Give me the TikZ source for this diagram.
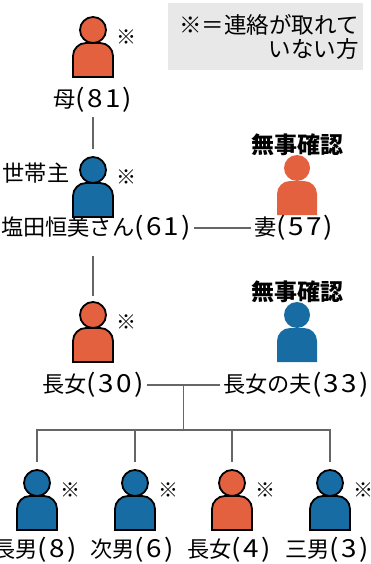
\documentclass[tikz,border=0pt]{standalone}
\usepackage{fontspec}
\setmainfont{Noto Sans CJK JP}
\definecolor{kinred}{RGB}{228,97,63}
\definecolor{kinblue}{RGB}{24,108,164}
\newcommand\age[1]{{\addfontfeatures{Scale=1.12,FakeStretch=1.12,LetterSpace=9}(#1)}}
\tikzset{
  lbl/.style={inner xsep=3pt,inner ysep=1pt,font=\fontsize{22.2}{24}\selectfont},
  okhead/.style={inner sep=0pt,font=\fontsize{23}{26}\selectfont\bfseries},
  link/.style={draw=black!60,line width=1.4pt},
  legend/.style={fill=black!9,minimum height=67pt,text width=187pt,inner xsep=4pt,align=right,font=\fontsize{22.5}{24}\selectfont},
  pics/missing/.style={code={
    \path[fill=#1,draw=black,line width=1.8pt] (-20,0) -- (-20,21) arc[start angle=180,end angle=90,radius=13] -- (7,34) arc[start angle=90,end angle=0,radius=13] -- (20,0) -- cycle;
    \path[fill=#1,draw=black,line width=1.8pt] (0,47) circle[radius=13];
    \node[inner sep=0pt,font=\fontsize{20}{20}\selectfont] (-kome) at (33,40) {※};
    \coordinate (-top) at (0,60);
  }},
  pics/safe/.style={code={
    \path[fill=#1] (-20,0) -- (-20,21) arc[start angle=180,end angle=90,radius=13] -- (7,34) arc[start angle=90,end angle=0,radius=13] -- (20,0) -- cycle;
    \path[fill=#1] (0,47) circle[radius=13];
    \coordinate (-top) at (0,60);
  }},
}
\begin{document}
\begin{tikzpicture}[x=1pt,y=1pt]
\useasboundingbox (0,0) rectangle (371,-564);
\node[legend,anchor=north east] (note) at (363,-3) {※＝連絡が取れて\\いない方};

\pic (mom) at (93,-77) {missing=kinred};
\pic (hh) at (93,-217) {missing=kinblue};
\pic (wife) at (297,-215) {safe=kinred};
\pic (d30) at (93,-362) {missing=kinred};
\pic (hus) at (297,-362) {safe=kinblue};
\pic (k1) at (37,-530) {missing=kinblue};
\pic (k2) at (135,-530) {missing=kinblue};
\pic (k3) at (232,-530) {missing=kinred};
\pic (k4) at (330,-530) {missing=kinblue};

\node[lbl] (momtxt) at (93,-100) {母\age{81}};
\node[lbl] (chief) at (36,-173) {世帯主};
\node[okhead] (ok1) at (297,-145) {無事確認};
\node[lbl] (hhtxt) at (96,-228) {塩田恒美さん\age{61}};
\node[lbl] (wifetxt) at (294,-228) {妻\age{57}};
\node[okhead] (ok2) at (297,-292) {無事確認};
\node[lbl] (dtxt) at (93,-385) {長女\age{30}};
\node[lbl] (hustxt) at (296,-385) {長女の夫\age{33}};
\node[lbl] (k1txt) at (35,-550) {長男\age{8}};
\node[lbl] (k2txt) at (132,-550) {次男\age{6}};
\node[lbl] (k3txt) at (229,-550) {長女\age{4}};
\node[lbl] (k4txt) at (327,-550) {三男\age{3}};

\draw[link,shorten <=3pt,shorten >=8pt] (mom-top |- momtxt.south) -- (hh-top);
\draw[link,shorten <=14pt,shorten >=6pt] (hh-top |- hhtxt.south) -- (d30-top);
\draw[link] (hhtxt) -- (wifetxt);
\draw[link] (dtxt) -- coordinate[pos=.5] (fork) (hustxt);
\draw[link] (fork) -- ++(0,-45) coordinate (bar);
\draw[link] ([yshift=8pt]k1-top) |- (bar) -| ([yshift=8pt]k4-top);
\foreach \k in {k2,k3}
  \draw[link] ([yshift=8pt]\k-top) -- (\k-top |- bar);
\end{tikzpicture}
\end{document}
